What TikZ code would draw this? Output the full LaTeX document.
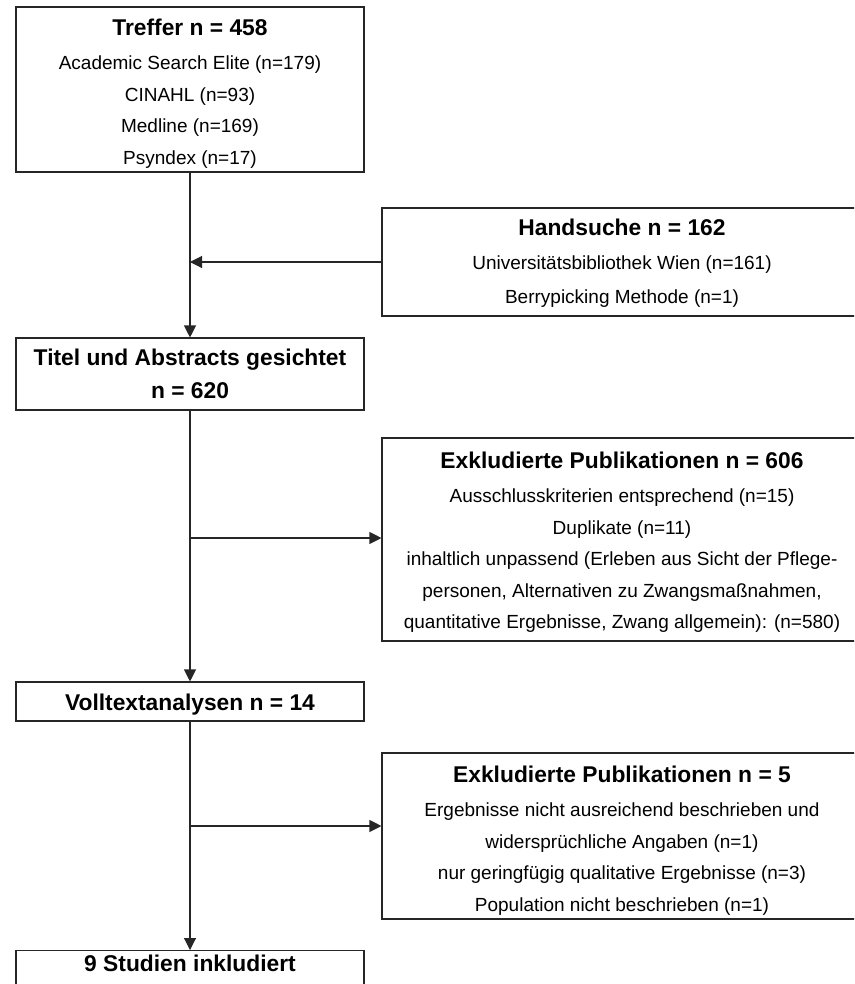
\documentclass[tikz,border=0pt]{standalone}
\usepackage{fontspec}
\setmainfont{Liberation Sans}
\usetikzlibrary{arrows.meta,calc}
\newcommand{\dgbody}{\fontsize{19}{31.5}\selectfont}
\newcommand{\dghead}{\fontsize{22.8}{33}\selectfont\bfseries}
\newcommand{\dgstrut}[1]{\rule{0pt}{#1}}
\begin{document}
\begin{tikzpicture}[x=1pt,y=-1pt,
  lbox/.style={draw=black!85, line width=1.1pt, minimum width=348pt, inner sep=0pt, align=center, font=\dgbody},
  rbox/.style={draw=black!85, line width=1.1pt, minimum width=480pt, inner sep=0pt, align=center, font=\dgbody},
  conn/.style={draw=black!85, line width=1.1pt},
  arr/.style={conn, -{Triangle[length=12pt,width=12pt]}}]
\useasboundingbox (0,0) rectangle (854,984);
\clip (0,0) rectangle (854,984);

\node[lbox, minimum height=165pt] (treffer) at (190,89.5)
  {\dgstrut{24pt}{\dghead Treffer n = 458}\\[3pt]
   Academic Search Elite (n=179)\\
   CINAHL (n=93)\\
   Medline (n=169)\\
   Psyndex (n=17)};

\node[rbox, minimum height=108pt] (hand) at (622,262)
  {\dgstrut{18pt}{\dghead Handsuche n = 162}\\[3pt]
   Universitätsbibliothek Wien (n=161)\\[2pt]
   Berrypicking Methode (n=1)};

\node[lbox, minimum height=72pt, font=\dghead] (titel) at (190,374)
  {Titel und Abstracts gesichtet\\ n = 620};

\node[rbox, minimum height=203pt] (ex1) at (622,539.5)
  {\dgstrut{22pt}{\dghead Exkludierte Publikationen n = 606}\\[3pt]
   Ausschlusskriterien entsprechend (n=15)\\
   Duplikate (n=11)\\
   inhaltlich unpassend (Erleben aus Sicht der Pflege-\\
   personen, Alternativen zu Zwangsmaßnahmen,\\
   quantitative Ergebnisse, Zwang allgemein): (n=580)};

\node[lbox, minimum height=39pt, font=\dghead] (voll) at (190,701.5)
  {\dgstrut{22.5pt}Volltextanalysen n = 14};

\node[rbox, minimum height=166pt] (ex2) at (622,836)
  {\dgstrut{25pt}{\dghead Exkludierte Publikationen n = 5}\\[3pt]
   Ergebnisse nicht ausreichend beschrieben und\\
   widersprüchliche Angaben (n=1)\\
   nur geringfügig qualitative Ergebnisse (n=3)\\
   Population nicht beschrieben (n=1)};

\node[lbox, anchor=north, font=\dghead, inner ysep=3pt, text height=18pt, text depth=40pt] (incl) at (190,950)
  {9 Studien inkludiert};

\draw[arr] (treffer.south) -- (titel.north);
\coordinate (j1) at (treffer.south |- hand.west);
\draw[arr] (hand.west) -- (j1);
\draw[arr] (titel.south) -- (voll.north);
\coordinate (j2) at (190,538);
\draw[arr] (j2) -- (j2 -| ex1.west);
\draw[arr] (voll.south) -- (incl.north);
\coordinate (j3) at (190,826);
\draw[arr] (j3) -- (j3 -| ex2.west);
\end{tikzpicture}
\end{document}
